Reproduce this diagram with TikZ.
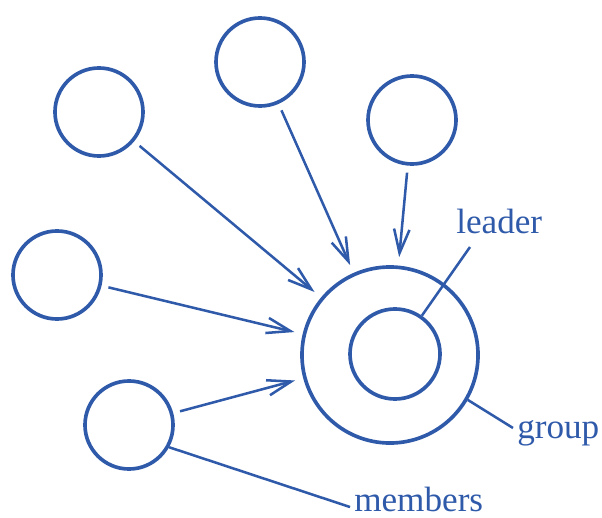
\documentclass[tikz,border=0pt]{standalone}
\usepackage{fontspec}
\setmainfont{Liberation Serif}
\usepackage{tikz}
\usetikzlibrary{arrows.meta}
\usepackage{xcolor}
\definecolor{ink}{RGB}{47,90,170}

\begin{document}
\begin{tikzpicture}[x=0.025cm,y=-0.025cm]
\useasboundingbox (0,0) rectangle (602,517);
\tikzstyle{member}=[circle,draw=ink,line width=2.6pt,minimum size=2.2cm,inner sep=0pt]
\tikzstyle{feed}=[-{Straight Barb[length=17pt,width=11pt,line width=1.8pt]},line width=1.8pt,color=ink,shorten <=5pt,shorten >=6pt]
\tikzstyle{tag}=[color=ink,font=\fontsize{25}{28}\selectfont,inner sep=0pt,anchor=base west]

\node[member] (mA) at (99,112) {};
\node[member] (mB) at (260,62) {};
\node[member] (mC) at (412,120) {};
\node[member] (mD) at (57,275) {};
\node[member] (mE) at (129,425) {};

\node[member,minimum size=4.4cm] (grp) at (390,355) {};
\node[member,minimum size=2.25cm] (ldr) at (395,354) {};

\draw[feed] (mA) to (grp);
\draw[feed] (mB) to (grp);
\draw[feed] (mC) to (grp);
\draw[feed] (mD) to (grp);
\draw[feed] (mE) to (grp);

\node[tag] (ldrlbl) at (456,234) {leader};
\node[tag] (grplbl) at (517,438) {group};
\node[tag] (memlbl) at (354,511) {members};

\coordinate (ldrend) at (470,247);
\coordinate (grpend) at (513,428);
\coordinate (memend) at (350,507);
\draw[line width=1.8pt,color=ink] (ldrend) -- (ldr);
\draw[line width=1.8pt,color=ink] (grp.-30) -- (grpend);
\draw[line width=1.8pt,color=ink] (mE.-29) -- (memend);
\end{tikzpicture}
\end{document}
